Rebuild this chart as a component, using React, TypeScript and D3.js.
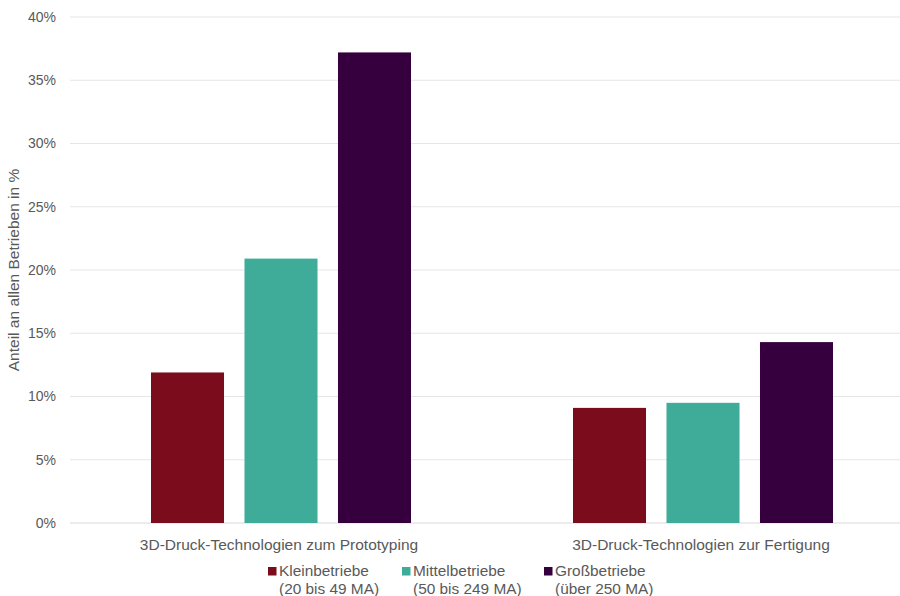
import { FC } from 'react';
import * as d3 from 'd3';

const categories = ['3D-Druck-Technologien zum Prototyping', '3D-Druck-Technologien zur Fertigung'];
const seriesNames = ['Kleinbetriebe', 'Mittelbetriebe', 'Großbetriebe'];
const seriesSub = ['(20 bis 49 MA)', '(50 bis 249 MA)', '(über 250 MA)'];
const seriesColors = ['#7a0c1b', '#3fac99', '#36003f'];
const kleinValues = [11.9, 9.1];
const mittelValues = [20.9, 9.5];
const grossValues = [37.2, 14.3];
const yTicks = [0, 5, 10, 15, 20, 25, 30, 35, 40];

const W = 900;
const H = 596;
const margin = { top: 17, left: 70, bottom: 73 };
const plotBottom = H - margin.bottom;

const App: FC = () => {
  const values = [kleinValues, mittelValues, grossValues];

  const y = d3.scaleLinear().domain([0, 40]).range([plotBottom, margin.top]);
  const x0 = d3.scaleBand<string>().domain(categories).range([margin.left, 914]).padding(0);
  const x1 = d3.scaleBand<string>().domain(seriesNames).range([81, 341]).paddingInner(0.219).paddingOuter(0);

  const legendX = [268, 402, 544];

  return (
    <svg width={W} height={H} style={{ position: 'absolute', left: 0, top: 0, fontFamily: 'Liberation Sans, Arial, sans-serif' }}>
      <rect width={W} height={H} fill="#fff" />
      {/* grid */}
      {yTicks.map(t => (
        <g key={t}>
          <line x1={margin.left} x2={W} y1={y(t)} y2={y(t)} stroke={t === 0 ? '#d9d9d9' : '#e6e6e6'} strokeWidth={1} />
          <text x={56} y={y(t)} dy="0.35em" textAnchor="end" fontSize={14} fill="#595959">{`${t}%`}</text>
        </g>
      ))}
      {/* bars */}
      {categories.map((c, ci) => (
        <g key={c} transform={`translate(${x0(c)},0)`}>
          {seriesNames.map((s, si) => (
            <rect
              key={s}
              x={x1(s)}
              y={y(values[si][ci])}
              width={x1.bandwidth()}
              height={plotBottom - y(values[si][ci])}
              fill={seriesColors[si]}
            />
          ))}
          <text x={x0.bandwidth() / 2 - 2} y={545} dy="0.35em" textAnchor="middle" fontSize={15.5} fill="#595959">{c}</text>
        </g>
      ))}
      {/* y title */}
      <text transform={`translate(19,${(plotBottom + margin.top) / 2}) rotate(-90)`} textAnchor="middle" fontSize={15.5} fill="#595959">
        Anteil an allen Betrieben in %
      </text>
      {/* legend */}
      {seriesNames.map((s, i) => (
        <g key={s}>
          <rect x={legendX[i]} y={567} width={8.5} height={8.5} fill={seriesColors[i]} />
          <text x={legendX[i] + 11} y={571} dy="0.35em" fontSize={15.4} fill="#595959">{s}</text>
          <text x={legendX[i] + 11} y={589} dy="0.35em" fontSize={15.4} fill="#595959">{seriesSub[i]}</text>
        </g>
      ))}
    </svg>
  );
};

export default App;
